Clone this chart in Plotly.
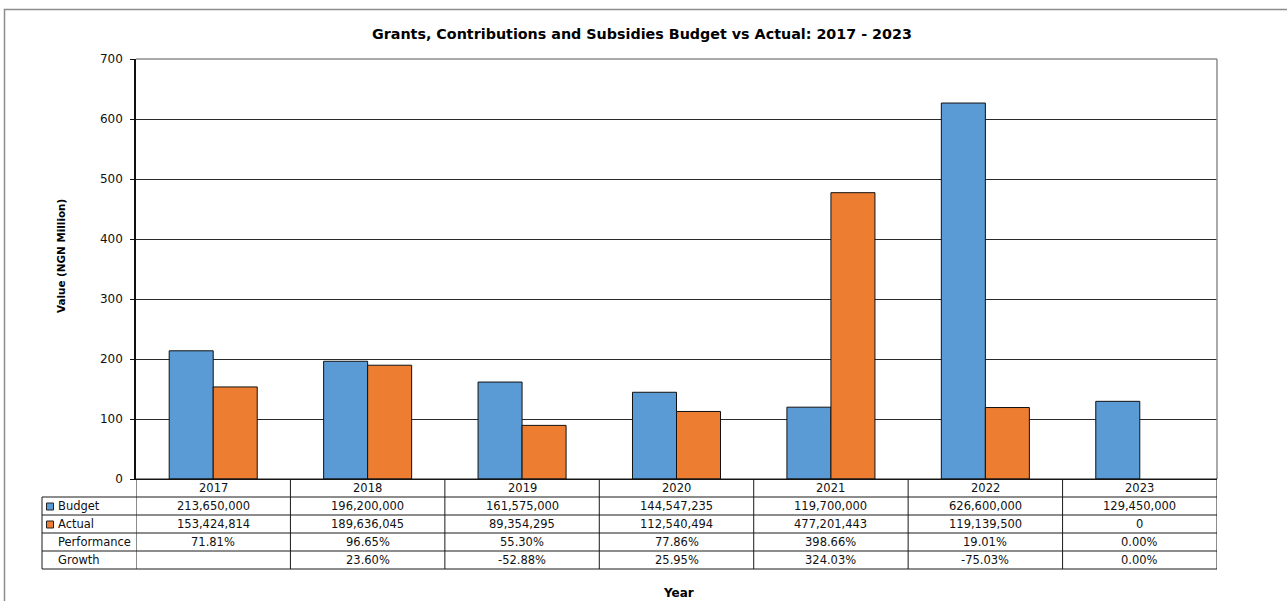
import plotly.graph_objects as go

# Budget vs actual grants, contributions and subsidies (NGN)
years = ["2017", "2018", "2019", "2020", "2021", "2022", "2023"]
budget_ngn = [213650000, 196200000, 161575000, 144547235, 119700000, 626600000, 129450000]
actual_ngn = [153424814, 189636045, 89354295, 112540494, 477201443, 119139500, 0]
performance = ["71.81%", "96.65%", "55.30%", "77.86%", "398.66%", "19.01%", "0.00%"]
growth = ["", "23.60%", "-52.88%", "25.95%", "324.03%", "-75.03%", "0.00%"]

budget_m = [v / 1e6 for v in budget_ngn]
actual_m = [v / 1e6 for v in actual_ngn]

BLUE = "#5B9BD5"
ORANGE = "#ED7D31"
FONT = "DejaVu Sans"

W, H = 1287, 601
L, R, T, B = 136, 1217, 59, 479  # plot area in pixels
PW, PH = R - L, B - T


def px(x):
    return (x - L) / PW


def py(y):
    return (B - y) / PH


n = len(years)
xs = list(range(n))


def outline_widths(vals):
    # no outline for empty (zero-height) bars
    return [1 if v > 0 else 0 for v in vals]


fig = go.Figure()
fig.add_trace(go.Bar(x=xs, y=budget_m, name="Budget",
                     marker=dict(color=BLUE, line=dict(color="#111", width=outline_widths(budget_m)))))
fig.add_trace(go.Bar(x=xs, y=actual_m, name="Actual",
                     marker=dict(color=ORANGE, line=dict(color="#111", width=outline_widths(actual_m)))))

shapes = []
annotations = []

# outer chart frame
shapes.append(dict(type="rect", xref="paper", yref="paper", x0=px(4.5), x1=px(1300), y0=py(620), y1=py(9.5),
                   line=dict(color="#8c8c8c", width=1.5), layer="below"))
# plot area border (top/right)
shapes.append(dict(type="line", xref="paper", yref="paper", x0=0, x1=1, y0=1, y1=1, line=dict(color="#8c8c8c", width=1.5)))
shapes.append(dict(type="line", xref="paper", yref="paper", x0=1, x1=1, y0=0, y1=1, line=dict(color="#8c8c8c", width=1.5)))

# data table grid
row_tops = [479, 497, 515, 533, 551, 569]
line_c = "#1a1a1a"
for i, yt in enumerate(row_tops):
    x0 = L if i == 0 else 42
    shapes.append(dict(type="line", xref="paper", yref="paper", x0=px(x0), x1=px(R), y0=py(yt), y1=py(yt),
                       line=dict(color=line_c, width=1)))
for k in range(n + 1):
    shapes.append(dict(type="line", xref="x", yref="paper", x0=k - 0.5, x1=k - 0.5, y0=py(479), y1=py(569),
                       line=dict(color=line_c, width=1)))
shapes.append(dict(type="line", xref="paper", yref="paper", x0=px(42), x1=px(42), y0=py(497), y1=py(569),
                   line=dict(color=line_c, width=1)))

# legend keys inside the table
for yt, col in [(497, BLUE), (515, ORANGE)]:
    shapes.append(dict(type="rect", xref="paper", yref="paper", x0=px(46.5), x1=px(53.5), y0=py(yt + 13), y1=py(yt + 6),
                       fillcolor=col, line=dict(color="#222", width=1)))

tfont = dict(family=FONT, size=11.5, color="#111")
row_labels = ["Budget", "Actual", "Performance", "Growth"]
for r, lab in enumerate(row_labels):
    yc = (row_tops[r + 1] + row_tops[r + 2]) / 2
    annotations.append(dict(xref="paper", yref="paper", x=px(56), y=py(yc), text=lab, showarrow=False,
                            xanchor="left", yanchor="middle", font=tfont))

rows = [
    [f"{v:,}" for v in budget_ngn],
    [f"{v:,}" for v in actual_ngn],
    performance,
    growth,
]
for k in range(n):
    annotations.append(dict(xref="x", yref="paper", x=k, y=py(488), text=years[k], showarrow=False,
                            xanchor="center", yanchor="middle", font=tfont))
    for r, vals in enumerate(rows):
        yc = (row_tops[r + 1] + row_tops[r + 2]) / 2
        if vals[k] != "":
            annotations.append(dict(xref="x", yref="paper", x=k, y=py(yc), text=vals[k], showarrow=False,
                                    xanchor="center", yanchor="middle", font=tfont))

# titles
annotations.append(dict(xref="paper", yref="paper", x=px(642), y=py(34.5),
                        text="<b>Grants, Contributions and Subsidies Budget vs Actual: 2017 - 2023</b>",
                        showarrow=False, xanchor="center", yanchor="middle",
                        font=dict(family=FONT, size=14.3, color="#000")))
annotations.append(dict(xref="paper", yref="paper", x=px(61), y=py(256), text="<b>Value (NGN Million)</b>",
                        textangle=-90, showarrow=False, xanchor="center", yanchor="middle",
                        font=dict(family=FONT, size=10.4, color="#000")))
annotations.append(dict(xref="paper", yref="paper", x=px(678), y=py(593), text="<b>Year</b>",
                        showarrow=False, xanchor="center", yanchor="middle",
                        font=dict(family=FONT, size=12, color="#000")))

fig.update_layout(
    width=W, height=H,
    margin=dict(l=L, r=W - R, t=T, b=H - B, pad=0),
    paper_bgcolor="white", plot_bgcolor="white",
    barmode="group", bargap=0.43, bargroupgap=0,
    showlegend=False,
    shapes=shapes, annotations=annotations,
    font=dict(family=FONT, size=11.5, color="#111"),
)
fig.update_xaxes(range=[-0.5, n - 0.5], showticklabels=False, showgrid=False, zeroline=False,
                 showline=True, linecolor="#111", linewidth=1, ticks="", fixedrange=True)
fig.update_yaxes(range=[0, 700], dtick=100, showgrid=True, gridcolor="#2a2a2a", gridwidth=1, zeroline=False,
                 showline=True, linecolor="#111", linewidth=1.5, ticks="outside", ticklen=4, tickcolor="#111",
                 ticklabelstandoff=5,
                 tickfont=dict(family=FONT, size=12, color="#111"), fixedrange=True)

fig.write_html("out.html")
